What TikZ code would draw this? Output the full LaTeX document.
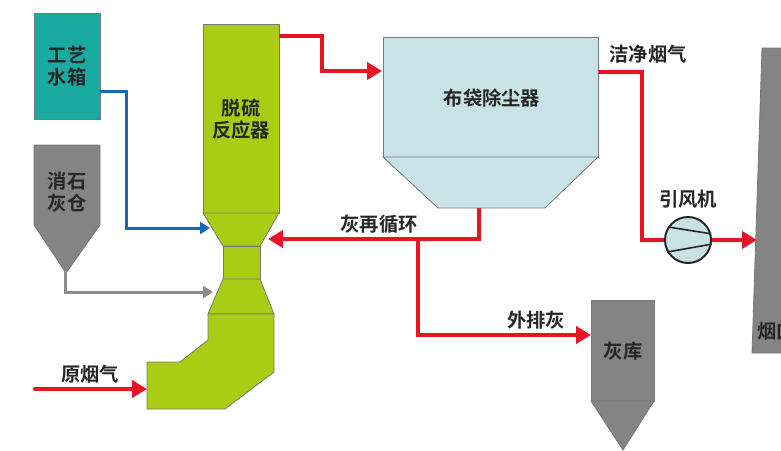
\documentclass[tikz,border=0pt]{standalone}
\usepackage{fontspec}
\setmainfont{Noto Sans CJK SC}[BoldFont={* Bold}]
\usetikzlibrary{arrows.meta}
\definecolor{limeg}{RGB}{170,204,20}
\definecolor{tealb}{RGB}{24,170,160}
\definecolor{paleb}{RGB}{200,226,230}
\definecolor{silog}{RGB}{132,132,132}
\definecolor{edgeg}{RGB}{120,120,120}
\definecolor{redl}{RGB}{232,20,36}
\definecolor{bluel}{RGB}{20,104,190}
\definecolor{grayl}{RGB}{140,140,140}
\tikzset{
  lbl/.style={font=\fontsize{19.3}{22}\selectfont\bfseries,text=black!85,inner sep=0pt,align=center},
  unit/.style={draw=edgeg,line width=0.8pt,line join=miter},
  pipe/.style={line width=4pt,-{Triangle[length=15pt,width=17pt]}},
  redp/.style={pipe,draw=redl},
  redn/.style={line width=4pt,draw=redl},
  thinp/.style={line width=3pt,-{Triangle[length=10pt,width=12pt]}},
}
\begin{document}
\begin{tikzpicture}[x=1pt,y=-1pt]
\useasboundingbox (0,0) rectangle (781,450);

% water tank
\node[unit,fill=tealb,minimum width=66pt,minimum height=106pt,inner sep=0pt] (tank) at (67,66) {};
\node[lbl] (tanktxt) at (67,66) {工艺\\水箱};

% lime silo
\draw[unit,fill=silog] (34,145) -- (100,145) -- (100,225) -- (66,273) -- (34,225) -- cycle;
\node[lbl] (limetxt) at (67,192) {消石\\灰仓};
\coordinate (limeout) at (65,271);

% reactor
\draw[unit,fill=limeg] (203,24) rectangle (279,213);
\draw[unit,fill=limeg] (203,213) -- (279,213) -- (260,246) -- (223,246) -- cycle;
\draw[unit,fill=limeg] (223,246) rectangle (260,279);
\draw[unit,fill=limeg] (223,279) -- (260,279) -- (274,314) -- (208,314) -- cycle;
\draw[unit,fill=limeg] (208,314) -- (274,314) -- (274,372) -- (225,409) -- (147,409) -- (147,362) -- (180,362) -- (208,340) -- cycle;
\node[lbl] (reactortxt) at (241,119) {脱硫\\反应器};
\coordinate (reactorout) at (279,36);
\coordinate (waterin) at (210,228);
\coordinate (limein) at (213,292);
\coordinate (ashin) at (268,239);
\coordinate (gasin) at (147,389);
\coordinate (gasstart) at (35,389);

% bag filter
\draw[unit,fill=paleb] (383,37) rectangle (598,157);
\draw[unit,fill=paleb] (383,157) -- (598,157) -- (545,208) -- (438,208) -- cycle;
\node[lbl] (filtertxt) at (492,98) {布袋除尘器};
\coordinate (filterin) at (382,71);
\coordinate (filterout) at (598,72);
\coordinate (filterash) at (479,208);

% ash store
\draw[unit,fill=silog] (591,300) rectangle (654,401);
\draw[unit,fill=silog] (591,401) -- (654,401) -- (623,450) -- cycle;
\node[lbl] (storetxt) at (623,351) {灰库};
\coordinate (storein) at (591,335);

% stack
\draw[unit,fill=silog] (762,48) -- (790,48) -- (790,353) -- (752,353) -- cycle;
\coordinate (stackin) at (757,240);
\begin{scope}
\clip (740,310) rectangle (781,350);
\node[lbl,anchor=west] (stacktxt) at (757,331) {烟囱};
\end{scope}

% fan
\node[circle,draw=black!85,fill=paleb,line width=2pt,minimum size=46pt,inner sep=0pt] (fan) at (688,240) {};
\draw[black!85,line width=1.6pt] (fan.147) -- (fan.15);
\draw[black!85,line width=1.6pt] (fan.210) -- (fan.350);

% pipes
\draw[thinp,draw=bluel] (tank.east |- 0,91) -| (126,228) -- (waterin);
\draw[thinp,draw=grayl] (limeout) |- (limein);
\draw[redp] (reactorout) -| (322,71) -- (filterin);
\draw[redn] (filterout) -| (642,240) -- (fan.west);
\draw[redp] (fan.east) -- (stackin);
\draw[redn] (filterash) |- (418,239);
\draw[redp] (418,239) -- (ashin);
\draw[redp] (418,239) |- (storein);
\draw[redp,line cap=round] (gasstart) -- (gasin);

% labels
\node[lbl] (gastxt) at (90,374) {原烟气};
\node[lbl] (recirctxt) at (379,224) {灰再循环};
\node[lbl] (dischtxt) at (536,320) {外排灰};
\node[lbl] (cleantxt) at (648,54) {洁净烟气};
\node[lbl] (fantxt) at (688,199) {引风机};
\end{tikzpicture}
\end{document}
